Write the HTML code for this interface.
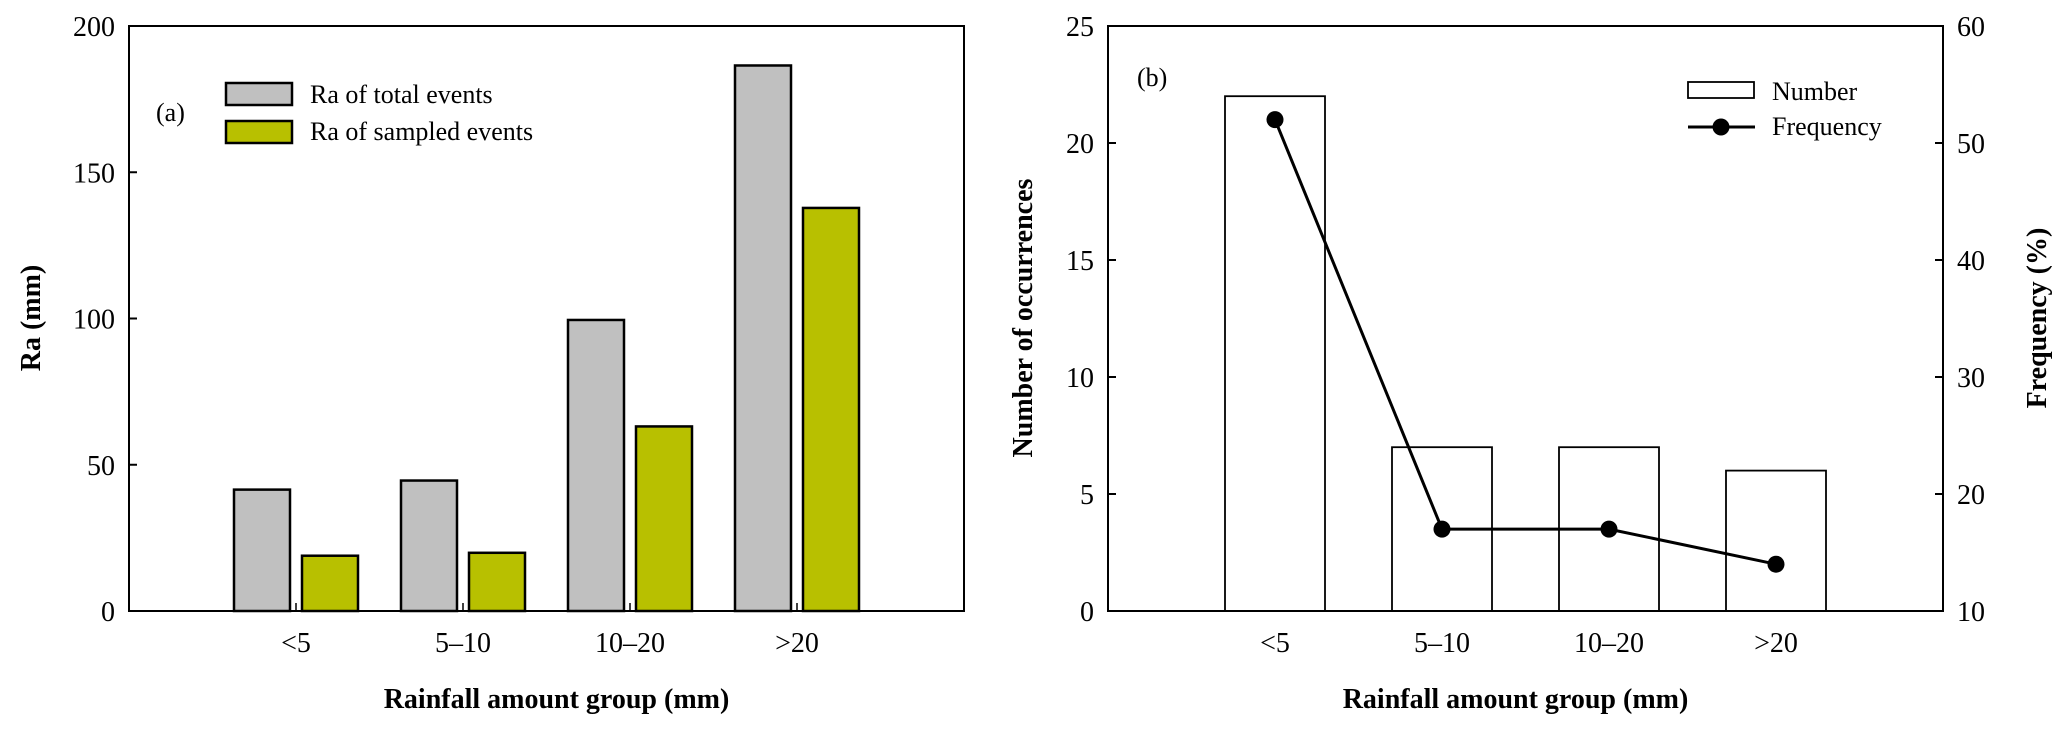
<!DOCTYPE html>
<html><head><meta charset="utf-8"><style>
html,body{margin:0;padding:0;background:#fff;}
svg{display:block;font-family:"Liberation Serif",serif;}
</style></head><body>
<svg id="chart" width="2067" height="738" viewBox="0 0 2067 738" xmlns="http://www.w3.org/2000/svg">
<g id="pa"></g>
<g id="pb"></g>
</svg>
<script>
const categories = ["<5", "5\u201310", "10\u201320", ">20"];
const raTotal = [41.5, 44.6, 99.5, 186.5];
const raSampled = [18.9, 19.9, 63.1, 137.8];
const ticksA = [0, 50, 100, 150, 200];
const numberCounts = [22, 7, 7, 6];
const frequencyPct = [52, 17, 17, 14];
const ticksBL = [0, 5, 10, 15, 20, 25];
const ticksBR = [10, 20, 30, 40, 50, 60];

const NS = "http://www.w3.org/2000/svg";
function mk(parent, tag, attrs, text){
  const e = document.createElementNS(NS, tag);
  for (const k in attrs) e.setAttribute(k, attrs[k]);
  if (text !== undefined) e.textContent = text;
  parent.appendChild(e);
  return e;
}
const TOP = 26, BOT = 611;
const pa = document.getElementById('pa');
const pb = document.getElementById('pb');

// ---------- Panel A ----------
const aL = 129, aR = 964;
const yA = v => BOT - (v - 0) / 200 * (BOT - TOP);
const xA = i => aL + 167 * (i + 1);
let e;
for (let i = 0; i < categories.length; i++) {
  e = mk(pa, 'rect', {x: xA(i) - 62, y: yA(raTotal[i]), width: 56, height: BOT - yA(raTotal[i]), fill: '#c0c0c0', stroke: '#000', 'stroke-width': 2.5});
  
  
  e = mk(pa, 'rect', {x: xA(i) + 6, y: yA(raSampled[i]), width: 56, height: BOT - yA(raSampled[i]), fill: '#b8c000', stroke: '#000', 'stroke-width': 2.5});
  
  
  e = mk(pa, 'line', {x1: xA(i), x2: xA(i), y1: BOT, y2: BOT - 8, stroke: '#000', 'stroke-width': 1.5});
  
  
  e = mk(pa, 'text', {x: xA(i), y: 652, 'text-anchor': 'middle', 'font-size': 28}, categories[i]);
  
  
}
e = mk(pa, 'rect', {x: aL, y: TOP, width: aR - aL, height: BOT - TOP, fill: 'none', stroke: '#000', 'stroke-width': 2});


for (const t of ticksA) {
  e = mk(pa, 'line', {x1: aL, x2: aL + 8, y1: yA(t), y2: yA(t), stroke: '#000', 'stroke-width': 2});
  
  
  e = mk(pa, 'text', {x: aL - 14, y: yA(t) + 10, 'text-anchor': 'end', 'font-size': 28}, String(t));
  
  
}
e = mk(pa, 'text', {x: 40, y: 318, transform: 'rotate(-90 40 318)', 'text-anchor': 'middle', 'font-size': 28, 'font-weight': 'bold'}, 'Ra (mm)');


e = mk(pa, 'text', {x: (aL + aR) / 2 + 10, y: 708, 'text-anchor': 'middle', 'font-size': 28, 'font-weight': 'bold'}, 'Rainfall amount group (mm)');


e = mk(pa, 'text', {x: 156, y: 121, 'font-size': 26}, '(a)');


e = mk(pa, 'rect', {x: 226, y: 83, width: 66, height: 22, fill: '#c0c0c0', stroke: '#000', 'stroke-width': 2.5});


e = mk(pa, 'text', {x: 310, y: 103, 'font-size': 26}, 'Ra of total events');


e = mk(pa, 'rect', {x: 226, y: 121, width: 66, height: 22, fill: '#b8c000', stroke: '#000', 'stroke-width': 2.5});


e = mk(pa, 'text', {x: 310, y: 140, 'font-size': 26}, 'Ra of sampled events');



// ---------- Panel B ----------
const bL = 1108, bR = 1943;
const yBL = v => BOT - v / 25 * (BOT - TOP);
const yBR = v => BOT - (v - 10) / 50 * (BOT - TOP);
const xB = i => bL + 167 * (i + 1);
for (let i = 0; i < categories.length; i++) {
  e = mk(pb, 'rect', {x: xB(i) - 50, y: yBL(numberCounts[i]), width: 100, height: BOT - yBL(numberCounts[i]), fill: '#fff', stroke: '#000', 'stroke-width': 1.8});
  
  
  e = mk(pb, 'text', {x: xB(i), y: 652, 'text-anchor': 'middle', 'font-size': 28}, categories[i]);
  
  
}
const pts = frequencyPct.map((v, i) => xB(i) + ',' + yBR(v)).join(' ');
e = mk(pb, 'polyline', {points: pts, fill: 'none', stroke: '#000', 'stroke-width': 3});


for (let i = 0; i < frequencyPct.length; i++) {
  e = mk(pb, 'circle', {cx: xB(i), cy: yBR(frequencyPct[i]), r: 8.5, fill: '#000'});
  
  
}
e = mk(pb, 'rect', {x: bL, y: TOP, width: bR - bL, height: BOT - TOP, fill: 'none', stroke: '#000', 'stroke-width': 2});


for (const t of ticksBL) {
  e = mk(pb, 'line', {x1: bL, x2: bL + 8, y1: yBL(t), y2: yBL(t), stroke: '#000', 'stroke-width': 2});
  
  
  e = mk(pb, 'text', {x: bL - 14, y: yBL(t) + 10, 'text-anchor': 'end', 'font-size': 28}, String(t));
  
  
}
for (const t of ticksBR) {
  e = mk(pb, 'line', {x1: bR - 8, x2: bR, y1: yBR(t), y2: yBR(t), stroke: '#000', 'stroke-width': 2});
  
  
  e = mk(pb, 'text', {x: bR + 14, y: yBR(t) + 10, 'text-anchor': 'start', 'font-size': 28}, String(t));
  
  
}
e = mk(pb, 'text', {x: 1032, y: 318, transform: 'rotate(-90 1032 318)', 'text-anchor': 'middle', 'font-size': 28, 'font-weight': 'bold'}, 'Number of occurrences');


e = mk(pb, 'text', {x: 2046, y: 318, transform: 'rotate(-90 2046 318)', 'text-anchor': 'middle', 'font-size': 28, 'font-weight': 'bold'}, 'Frequency (%)');


e = mk(pb, 'text', {x: (bL + bR) / 2 - 10, y: 708, 'text-anchor': 'middle', 'font-size': 28, 'font-weight': 'bold'}, 'Rainfall amount group (mm)');


e = mk(pb, 'text', {x: 1137, y: 86, 'font-size': 26}, '(b)');


e = mk(pb, 'rect', {x: 1688, y: 82, width: 66, height: 16, fill: '#fff', stroke: '#000', 'stroke-width': 1.8});


e = mk(pb, 'text', {x: 1772, y: 100, 'font-size': 26}, 'Number');


e = mk(pb, 'line', {x1: 1688, x2: 1755, y1: 127, y2: 127, stroke: '#000', 'stroke-width': 3});


e = mk(pb, 'circle', {cx: 1721, cy: 127, r: 8.5, fill: '#000'});


e = mk(pb, 'text', {x: 1772, y: 135, 'font-size': 26}, 'Frequency');


</script>
</body></html>
